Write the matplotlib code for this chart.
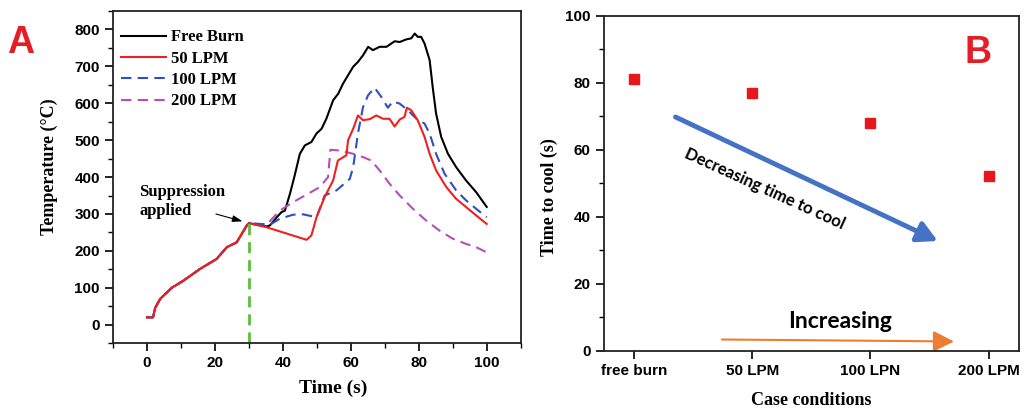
import numpy as np
from matplotlib import pyplot as plt
from matplotlib.ticker import MultipleLocator
from matplotlib.patches import FancyArrowPatch

# ---- panel A: temperature histories ----
t_common = [0, 1.8, 2.4, 3.9, 7.3, 10.7, 15.6, 20.5, 23.5, 26.4, 29.4, 30]
T_common = [20, 20, 45, 70, 100, 119, 151, 178, 210, 223, 269, 275]

t_free = [33, 35.2, 36.2, 38.2, 39.6, 40.6, 42.1, 43.5, 45, 46.5, 48.4, 49.9, 51.4, 52.8,
          54.8, 56.3, 57.7, 59.2, 60.7, 62.1, 63.6, 65.1, 66.5, 68.5, 70.5, 72.9, 74.4,
          76.3, 77.8, 78.8, 79.7, 80.7, 81.7, 83.2, 84.1, 85.1, 86.6, 88.6, 91, 93.9,
          96.9, 100]
T_free = [270, 266, 269, 291, 305, 309, 355, 405, 463, 486, 495, 518, 531, 558,
          608, 626, 653, 676, 699, 712, 730, 753, 744, 753, 753, 768, 766,
          773, 776, 789, 780, 780, 762, 717, 644, 572, 509, 463, 427, 391,
          359, 319]

t_50 = [35.2, 47, 48.4, 49.9, 52.3, 54.8, 56.2, 58.7, 59.2, 60.7, 62.1, 63.6, 65.6, 67.5,
        69.5, 71.4, 72.9, 74.4, 75.8, 76.5, 77.8, 79.7, 81.7, 83.2, 85.1, 88.1, 91,
        93.9, 96.9, 100]
T_50 = [264, 230, 242, 291, 346, 391, 445, 459, 500, 531, 567, 554, 557, 567,
        558, 558, 537, 556, 563, 588, 581, 554, 509, 463, 418, 373, 341,
        319, 296, 273]

t_100 = [36.2, 39.1, 43, 46, 49.9, 52.3, 55.8, 59.7, 60.7, 62.1, 63.6, 65.1, 67, 69,
         70.9, 72.4, 74.4, 76.8, 79.3, 81.7, 83.2, 85.1, 87.6, 91, 93.9, 96.9, 100]
T_100 = [271, 287, 298, 299, 291, 350, 364, 395, 427, 518, 590, 622, 642, 617,
         588, 605, 599, 581, 558, 545, 518, 463, 409, 364, 337, 314, 291]

t_200 = [35.2, 39.1, 43, 46.5, 49.4, 50.9, 53.3, 54, 56.8, 60.7, 63.6, 66, 68.5, 71.4,
         74.4, 78.3, 82.2, 86.1, 90, 93.9, 96.9, 100]
T_200 = [271, 309, 332, 350, 365, 373, 400, 474, 472, 463, 454, 445, 418, 382,
         350, 314, 282, 255, 233, 219, 210, 196]

# ---- panel B: time to cool ----
cases = ['free burn', '50 LPM', '100 LPN', '200 LPM']
cool_time = [81, 77, 68, 52]

plt.rcParams['font.family'] = 'Liberation Sans'
plt.rcParams['font.weight'] = 'bold'
serif = 'Liberation Serif'

fig = plt.figure(figsize=(10.27, 4.08), dpi=100)
ax1 = fig.add_axes([0.110, 0.159, 0.397, 0.814])
ax2 = fig.add_axes([0.588, 0.140, 0.404, 0.822])

for ax in (ax1, ax2):
    for s in ax.spines.values():
        s.set_linewidth(1.3)
        s.set_color('#222222')
    ax.tick_params(which='major', direction='out', length=6, width=1.2, labelsize=11,
                   top=False, right=False)
    ax.tick_params(which='minor', direction='out', length=3.5, width=1.0,
                   top=False, right=False)

# panel A
def full(t, T):
    return t_common + t, T_common + T

x, y = full(t_free, T_free)
ax1.plot(x, y, color='black', lw=1.5, label='Free Burn')
x, y = full(t_200, T_200)
ax1.plot(x, y, color='#b84db8', lw=1.5, ls=(0, (5, 3)), label='200 LPM')
x, y = full(t_100, T_100)
ax1.plot(x, y, color='#2f4fbf', lw=1.5, ls=(0, (5, 3)), label='100 LPM')
x, y = full(t_50, T_50)
ax1.plot(x, y, color='#f02020', lw=1.5, label='50 LPM')

h, l = ax1.get_legend_handles_labels()
order = [0, 3, 2, 1]
ax1.legend([h[i] for i in order], [l[i] for i in order], loc='upper left',
           bbox_to_anchor=(-0.018, 0.99), frameon=False, handlelength=2.7,
           handletextpad=0.3, labelspacing=0.32,
           prop={'family': serif, 'weight': 'bold', 'size': 12})

ax1.plot([30, 30], [-50, 292], color='#5cbf3c', lw=2, ls=(0, (4, 2.5)))
ax1.text(-2.2, 334, 'Suppression\napplied', family=serif, fontweight='bold',
         fontsize=12, ha='left', va='center', linespacing=1.25)
ax1.annotate('', xy=(28.9, 278), xytext=(19.5, 302),
             arrowprops=dict(arrowstyle='-|>,head_width=0.2,head_length=0.6',
                             color='black', lw=0.8))

ax1.set_xlim(-10, 110)
ax1.set_ylim(-50, 850)
ax1.set_xticks([0, 20, 40, 60, 80, 100])
ax1.set_yticks(range(0, 801, 100))
ax1.xaxis.set_minor_locator(MultipleLocator(10))
ax1.yaxis.set_minor_locator(MultipleLocator(50))
ax1.set_xlabel('Time (s)', family=serif, fontweight='bold', fontsize=14)
ax1.set_ylabel('Temperature (\u00b0C)', family=serif, fontweight='bold', fontsize=13)
ax1.xaxis.set_label_coords(0.539, -0.111)
ax1.yaxis.set_label_coords(-0.135, 0.531)

# panel B
pos = np.arange(len(cases))
ax2.plot(pos, cool_time, ls='none', marker='s', ms=6.5, color='#e8171b')
ax2.set_xlim(-0.254, 3.254)
ax2.set_ylim(0, 100)
ax2.set_xticks(pos)
ax2.set_xticklabels(cases)
ax2.set_yticks(range(0, 101, 20))
ax2.yaxis.set_minor_locator(MultipleLocator(10))
ax2.set_xlabel('Case conditions', family=serif, fontweight='bold', fontsize=13)
ax2.set_ylabel('Time to cool (s)', family=serif, fontweight='bold', fontsize=13)
ax2.xaxis.set_label_coords(0.50, -0.122)
ax2.yaxis.set_label_coords(-0.111, 0.46)

ax2.add_patch(FancyArrowPatch((0.33, 70.1), (2.59, 32.4),
                              arrowstyle='-|>,head_width=0.32,head_length=0.6',
                              mutation_scale=20, lw=3.5, color='#4472c4'))
ax2.text(1.106, 48.3, 'Decreasing time to cool', family='Lato', fontweight='bold',
         fontsize=12, rotation=-24.5, rotation_mode='anchor', ha='center', va='center')
ax2.add_patch(FancyArrowPatch((0.72, 3.4), (2.73, 2.8),
                              arrowstyle='-|>,head_width=0.4,head_length=0.8',
                              mutation_scale=16, lw=1.5, color='#ed7d31'))
ax2.text(1.74, 8.7, 'Increasing', family='Lato', fontweight='bold', fontsize=16.5,
         ha='center', va='center')
ax2.text(0.901, 0.889, 'B', transform=ax2.transAxes, color='#e41e25', fontsize=27,
         fontweight='bold', ha='center', va='center')

fig.text(0.0204, 0.895, 'A', color='#e41e25', fontsize=27, fontweight='bold',
         ha='center', va='center')

plt.savefig('out.png', dpi=100)
